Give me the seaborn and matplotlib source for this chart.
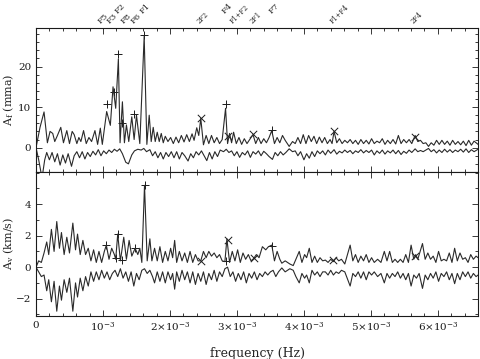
import numpy as np
import pandas as pd
import seaborn as sns
import matplotlib.pyplot as plt
from matplotlib.ticker import MultipleLocator, FixedLocator, FixedFormatter
import matplotlib.transforms as mtransforms

# frequencies in mHz (1e-3 Hz), amplitudes
top_upper = [
    (0.00, 0.0), (0.06, 5.0), (0.12, 8.8), (0.17, 1.2), (0.21, 4.0), (0.25, 3.5), (0.28, 1.5),
    (0.32, 3.0), (0.37, 5.0), (0.41, 1.2), (0.46, 4.2), (0.50, 1.0), (0.54, 4.0), (0.57, 3.2),
    (0.61, 1.0), (0.64, 2.5), (0.67, 1.5), (0.71, 4.2), (0.75, 1.0), (0.79, 2.5), (0.83, 1.5),
    (0.88, 4.2), (0.92, 0.8), (0.96, 4.8), (0.99, 0.8), (1.055, 8.9), (1.11, 5.5), (1.15, 15.0),
    (1.19, 9.7), (1.23, 21.9), (1.255, 1.2), (1.29, 11.3), (1.32, 1.2), (1.35, 5.6), (1.385, 1.5),
    (1.43, 7.6), (1.465, 2.0), (1.50, 8.0), (1.55, 1.0), (1.615, 27.5), (1.655, 0.8), (1.69, 8.0),
    (1.72, 1.5), (1.75, 5.0), (1.78, 1.5), (1.81, 3.8), (1.84, 1.5), (1.87, 3.5), (1.90, 1.2),
    (1.93, 2.8), (1.97, 1.5), (2.01, 2.5), (2.05, 1.0), (2.09, 2.6), (2.13, 1.2), (2.17, 3.0),
    (2.21, 1.4), (2.25, 3.2), (2.29, 1.5), (2.33, 3.4), (2.36, 1.8), (2.40, 4.9), (2.43, 3.0),
    (2.46, 7.2), (2.50, 0.7), (2.54, 3.0), (2.58, 1.0), (2.62, 3.0), (2.66, 1.2), (2.70, 2.5),
    (2.74, 1.0), (2.78, 2.0), (2.83, 9.7), (2.86, 1.0), (2.89, 3.5), (2.92, 1.2), (2.95, 3.8),
    (2.99, 1.0), (3.03, 2.5), (3.07, 0.8), (3.11, 2.2), (3.15, 1.0), (3.19, 2.0), (3.24, 3.2),
    (3.28, 1.0), (3.32, 2.5), (3.36, 1.0), (3.40, 2.2), (3.44, 1.2), (3.48, 2.5), (3.52, 4.2),
    (3.56, 1.0), (3.60, 2.5), (3.64, 1.2), (3.68, 3.0), (3.72, 1.8), (3.78, 0.3), (3.83, 1.5),
    (3.87, 1.0), (3.91, 2.5), (3.95, 1.0), (3.99, 3.2), (4.03, 1.0), (4.07, 3.0), (4.11, 1.5),
    (4.15, 2.8), (4.19, 1.0), (4.23, 2.6), (4.27, 1.2), (4.31, 2.5), (4.35, 1.0), (4.39, 2.0),
    (4.42, 1.0), (4.45, 4.0), (4.49, 1.2), (4.53, 2.2), (4.57, 1.0), (4.61, 1.8), (4.65, 1.2),
    (4.69, 2.0), (4.73, 1.0), (4.77, 1.8), (4.81, 0.8), (4.85, 2.0), (4.89, 1.0), (4.93, 1.8),
    (4.97, 0.9), (5.01, 2.2), (5.05, 1.0), (5.09, 1.6), (5.13, 1.2), (5.17, 2.2), (5.21, 0.8),
    (5.25, 1.8), (5.29, 1.0), (5.33, 2.0), (5.37, 0.9), (5.41, 3.0), (5.45, 1.0), (5.49, 2.0),
    (5.53, 1.2), (5.57, 2.0), (5.61, 1.0), (5.66, 3.0), (5.70, 1.5), (5.74, 1.8), (5.78, 1.0),
    (5.82, 1.2), (5.86, 0.3), (5.90, 1.2), (5.94, 0.6), (5.98, 1.8), (6.02, 0.8), (6.06, 1.8),
    (6.10, 0.8), (6.14, 1.6), (6.18, 0.6), (6.22, 1.8), (6.26, 0.8), (6.30, 1.5), (6.34, 0.7),
    (6.38, 1.6), (6.42, 0.5), (6.46, 1.8), (6.50, 0.6), (6.54, 1.6), (6.60, 0.8),
]

top_lower = [
    (0.00, 0.0), (0.04, -3.0), (0.09, -7.5), (0.13, -3.0), (0.16, -1.2), (0.20, -3.0), (0.24, -1.2),
    (0.28, -3.5), (0.32, -1.5), (0.36, -4.3), (0.40, -1.8), (0.44, -3.8), (0.48, -1.5), (0.53, -4.6),
    (0.57, -2.0), (0.61, -1.0), (0.65, -2.5), (0.69, -1.0), (0.73, -2.8), (0.77, -1.2), (0.81, -2.2),
    (0.85, -0.9), (0.89, -1.8), (0.93, -0.5), (0.97, -2.0), (1.01, -0.8), (1.05, -1.5), (1.09, -0.6),
    (1.13, -1.2), (1.17, -0.4), (1.21, -0.9), (1.25, -0.3), (1.29, -1.5), (1.34, -3.6), (1.38, -4.0),
    (1.43, -1.8), (1.47, -0.8), (1.52, -0.4), (1.57, -0.6), (1.61, -0.2), (1.65, -1.0), (1.70, -0.5),
    (1.74, -2.0), (1.78, -1.0), (1.82, -2.5), (1.86, -1.2), (1.90, -2.8), (1.94, -1.2), (1.98, -2.2),
    (2.02, -1.0), (2.06, -2.5), (2.10, -1.0), (2.14, -2.8), (2.18, -1.2), (2.22, -2.0), (2.27, -3.3),
    (2.31, -1.5), (2.35, -2.5), (2.39, -1.0), (2.43, -1.8), (2.47, -0.8), (2.51, -2.0), (2.55, -3.2),
    (2.59, -1.2), (2.63, -2.8), (2.67, -1.0), (2.71, -2.2), (2.75, -0.6), (2.80, -1.0), (2.84, -0.4),
    (2.88, -1.2), (2.92, -0.8), (2.96, -2.0), (3.00, -1.0), (3.04, -2.4), (3.08, -1.2), (3.12, -1.8),
    (3.16, -0.8), (3.20, -2.4), (3.24, -1.0), (3.28, -1.6), (3.32, -0.8), (3.36, -2.0), (3.40, -0.9),
    (3.44, -1.5), (3.48, -2.2), (3.53, -2.9), (3.57, -1.2), (3.61, -2.0), (3.65, -1.0), (3.69, -1.8),
    (3.73, -1.2), (3.78, -0.3), (3.83, -1.0), (3.87, -0.8), (3.91, -2.0), (3.95, -1.0), (4.00, -3.0),
    (4.04, -1.5), (4.08, -2.6), (4.12, -1.0), (4.16, -2.2), (4.20, -0.8), (4.24, -1.5), (4.28, -0.8),
    (4.32, -1.8), (4.36, -0.6), (4.40, -1.4), (4.45, -0.5), (4.49, -1.6), (4.53, -0.9), (4.57, -1.3),
    (4.61, -0.6), (4.65, -1.2), (4.69, -0.7), (4.73, -1.5), (4.77, -0.8), (4.81, -1.2), (4.85, -0.5),
    (4.89, -1.3), (4.93, -0.7), (4.97, -1.2), (5.01, -0.6), (5.05, -1.8), (5.09, -0.8), (5.13, -1.4),
    (5.17, -0.6), (5.21, -1.6), (5.25, -0.8), (5.29, -1.3), (5.33, -0.6), (5.37, -1.5), (5.41, -0.7),
    (5.45, -1.7), (5.49, -0.9), (5.53, -1.4), (5.57, -0.6), (5.61, -1.2), (5.66, -0.3), (5.70, -1.0),
    (5.74, -0.7), (5.78, -1.0), (5.82, -0.6), (5.86, -0.2), (5.90, -1.0), (5.94, -0.5), (5.98, -1.3),
    (6.02, -0.6), (6.06, -1.2), (6.10, -0.4), (6.14, -1.1), (6.18, -0.5), (6.22, -1.2), (6.26, -0.6),
    (6.30, -1.0), (6.34, -0.4), (6.38, -1.1), (6.42, -0.3), (6.46, -1.2), (6.50, -0.5), (6.54, -1.0),
    (6.60, -0.4),
]

bot_upper = [
    (0.00, 0.0), (0.04, 0.4), (0.08, 0.3), (0.12, 0.9), (0.16, 1.6), (0.19, 0.8), (0.23, 2.4),
    (0.27, 1.0), (0.31, 2.9), (0.35, 1.2), (0.38, 2.2), (0.42, 0.8), (0.46, 1.9), (0.50, 0.9),
    (0.55, 2.8), (0.59, 1.1), (0.62, 2.1), (0.66, 0.8), (0.70, 1.7), (0.74, 0.8), (0.78, 1.2),
    (0.82, 0.4), (0.86, 1.1), (0.90, 0.3), (0.94, 1.0), (0.98, 0.3), (1.02, 1.0), (1.05, 1.4),
    (1.09, 0.5), (1.13, 1.2), (1.17, 0.8), (1.19, 0.5), (1.22, 2.1), (1.26, 0.4), (1.31, 1.9),
    (1.35, 0.5), (1.39, 1.7), (1.43, 0.7), (1.48, 1.2), (1.52, 0.8), (1.55, 1.2), (1.58, 0.3),
    (1.62, 5.2), (1.66, 0.4), (1.70, 1.8), (1.73, 0.4), (1.77, 1.2), (1.81, 0.4), (1.85, 1.3),
    (1.89, 0.3), (1.93, 1.0), (1.97, 0.4), (2.01, 1.2), (2.04, 0.6), (2.07, 1.7), (2.10, 0.3),
    (2.14, 1.0), (2.18, 0.4), (2.22, 0.9), (2.26, 0.3), (2.30, 1.0), (2.34, 0.3), (2.38, 0.8),
    (2.42, 0.4), (2.46, 0.4), (2.50, 1.0), (2.54, 0.6), (2.58, 1.0), (2.62, 0.7), (2.66, 0.9),
    (2.70, 0.6), (2.74, 0.8), (2.78, 0.4), (2.82, 0.35), (2.85, 1.8), (2.89, 0.3), (2.93, 1.0),
    (2.97, 0.4), (3.01, 1.1), (3.05, 0.3), (3.09, 0.9), (3.13, 0.5), (3.17, 0.8), (3.21, 0.4),
    (3.25, 0.55), (3.29, 0.8), (3.33, 0.6), (3.38, 1.3), (3.43, 1.1), (3.47, 1.3), (3.52, 1.4),
    (3.56, 0.4), (3.60, 1.0), (3.64, 0.5), (3.67, 0.25), (3.72, 0.4), (3.79, 0.2), (3.84, 0.1),
    (3.88, 0.5), (3.93, 1.0), (3.97, 0.3), (4.01, 0.8), (4.04, 0.6), (4.08, 1.2), (4.12, 0.3),
    (4.16, 0.7), (4.20, 0.3), (4.24, 0.6), (4.28, 0.4), (4.32, 0.45), (4.36, 0.3), (4.40, 0.5),
    (4.44, 0.35), (4.48, 0.6), (4.52, 0.4), (4.56, 0.5), (4.61, 0.2), (4.69, 1.4), (4.73, 0.4),
    (4.77, 0.8), (4.81, 0.3), (4.85, 0.7), (4.89, 0.4), (4.93, 0.8), (4.97, 0.3), (5.01, 0.6),
    (5.05, 0.3), (5.10, 0.5), (5.15, 0.3), (5.20, 1.0), (5.24, 0.4), (5.28, 1.0), (5.32, 0.3),
    (5.36, 0.5), (5.40, 0.3), (5.44, 0.5), (5.48, 0.3), (5.52, 0.8), (5.56, 0.3), (5.60, 1.4),
    (5.64, 0.5), (5.67, 0.8), (5.70, 0.5), (5.77, 1.5), (5.81, 0.5), (5.85, 0.9), (5.89, 0.5),
    (5.93, 0.7), (5.97, 0.3), (6.01, 1.0), (6.05, 0.4), (6.09, 0.5), (6.13, 0.4), (6.17, 0.9),
    (6.21, 0.3), (6.25, 1.2), (6.29, 0.4), (6.33, 0.9), (6.37, 0.5), (6.41, 0.6), (6.45, 0.3),
    (6.49, 0.8), (6.53, 0.5), (6.57, 0.7), (6.60, 0.6),
]

bot_lower = [
    (0.00, 0.0), (0.04, -0.3), (0.08, -0.6), (0.12, -0.5), (0.16, -1.5), (0.19, -0.8), (0.23, -2.2),
    (0.27, -0.9), (0.31, -2.8), (0.35, -1.2), (0.38, -2.1), (0.42, -0.8), (0.46, -1.6), (0.50, -0.7),
    (0.55, -2.8), (0.59, -1.0), (0.62, -1.9), (0.66, -0.7), (0.70, -1.5), (0.74, -0.6), (0.78, -1.2),
    (0.82, -0.3), (0.86, -0.9), (0.90, -0.3), (0.94, -0.8), (0.98, -0.2), (1.02, -0.7), (1.06, -0.3),
    (1.10, -0.8), (1.14, -0.4), (1.18, -0.2), (1.22, -0.6), (1.26, -0.1), (1.30, -0.7), (1.34, -0.3),
    (1.38, -0.9), (1.42, -0.3), (1.46, -1.2), (1.50, -0.4), (1.54, -0.8), (1.58, -0.2), (1.62, -0.1),
    (1.66, -0.4), (1.70, -0.2), (1.74, -0.6), (1.77, -1.0), (1.81, -0.3), (1.85, -0.9), (1.89, -0.3),
    (1.93, -1.0), (1.97, -0.3), (2.01, -0.8), (2.04, -0.4), (2.07, -1.4), (2.10, -0.3), (2.14, -0.9),
    (2.18, -0.2), (2.22, -0.8), (2.26, -0.3), (2.30, -1.0), (2.34, -0.3), (2.38, -1.1), (2.42, -0.4),
    (2.46, -0.9), (2.50, -0.3), (2.54, -1.1), (2.58, -0.4), (2.62, -0.8), (2.66, -0.2), (2.70, -0.9),
    (2.74, -0.3), (2.78, -0.6), (2.82, -0.1), (2.86, 0.0), (2.90, -0.6), (2.94, -0.3), (2.98, -0.9),
    (3.02, -0.4), (3.06, -0.8), (3.10, -0.3), (3.14, -1.0), (3.18, -0.4), (3.22, -0.7), (3.26, -0.3),
    (3.30, -0.8), (3.34, -0.4), (3.38, -0.6), (3.42, -0.3), (3.46, -0.5), (3.50, -0.3), (3.54, -0.2),
    (3.58, -0.6), (3.62, -0.3), (3.67, -0.05), (3.72, -0.3), (3.79, -0.1), (3.84, -0.2), (3.88, -0.6),
    (3.93, -1.0), (3.97, -0.4), (4.01, -0.7), (4.04, -0.5), (4.08, -1.0), (4.12, -0.2), (4.16, -0.5),
    (4.20, -0.3), (4.24, -0.6), (4.28, -0.3), (4.32, -0.3), (4.36, -0.5), (4.40, -0.2), (4.44, -0.5),
    (4.48, -0.3), (4.52, -0.4), (4.56, -0.2), (4.61, -0.3), (4.69, -1.2), (4.73, -0.4), (4.77, -0.6),
    (4.81, -0.3), (4.85, -0.7), (4.89, -0.3), (4.93, -0.8), (4.97, -0.3), (5.01, -0.5), (5.05, -0.3),
    (5.10, -0.6), (5.15, -0.4), (5.20, -1.0), (5.24, -0.4), (5.28, -0.7), (5.32, -0.4), (5.36, -0.6),
    (5.40, -0.3), (5.44, -0.7), (5.48, -0.4), (5.52, -0.8), (5.56, -0.4), (5.60, -1.2), (5.64, -0.5),
    (5.68, -0.7), (5.72, -0.4), (5.77, -1.35), (5.81, -0.5), (5.85, -0.8), (5.89, -0.4), (5.93, -0.7),
    (5.97, -0.3), (6.01, -0.9), (6.05, -0.4), (6.09, -0.6), (6.13, -0.3), (6.17, -0.8), (6.21, -0.4),
    (6.25, -1.05), (6.29, -0.4), (6.33, -0.8), (6.37, -0.3), (6.41, -0.6), (6.45, -0.3), (6.49, -0.7),
    (6.53, -0.4), (6.57, -0.6), (6.60, -0.5),
]

# identified frequencies (+) and combinations (x)
top_plus = [(1.055, 10.7), (1.17, 13.6), (1.23, 23.0), (1.28, 6.0), (1.46, 8.3), (1.61, 27.8),
            (2.83, 10.7), (3.52, 4.3)]
top_cross = [(2.46, 7.4), (2.87, 2.8), (3.24, 3.3), (4.45, 4.0), (5.66, 2.7)]
bot_plus = [(1.05, 1.4), (1.22, 2.1), (1.19, 0.55), (1.28, 0.45), (1.48, 1.2), (1.62, 5.2),
            (2.84, 0.4), (3.52, 1.35)]
bot_cross = [(2.46, 0.4), (2.86, 1.75), (3.25, 0.55), (4.44, 0.45), (5.66, 0.7)]

# peak labels above the top panel: (text, freq, row)
peak_labels = [("F5", 1.00, 0), ("F3", 1.14, 0), ("F2", 1.25, 1), ("F8", 1.34, 0),
               ("F6", 1.49, 0), ("F1", 1.63, 1), ("F4", 2.85, 1), ("F7", 3.55, 1)]
combo_labels = [("2F2", 2.49, 0), ("F1+F2", 3.04, 0), ("2F1", 3.28, 0),
                ("F1+F4", 4.53, 0), ("2F4", 5.69, 0)]

xtick_vals = [0, 1, 2, 3, 4, 5, 6]
xtick_labels = ["0", r"$10^{-3}$", r"$2{\times}10^{-3}$", r"$3{\times}10^{-3}$",
                r"$4{\times}10^{-3}$", r"$5{\times}10^{-3}$", r"$6{\times}10^{-3}$"]

sns.set_theme(style="ticks")
plt.rcParams["font.family"] = ["DejaVu Serif"]
plt.rcParams["mathtext.fontset"] = "dejavuserif"

fig, (ax1, ax2) = plt.subplots(2, 1, figsize=(4.8, 3.59), dpi=100, sharex=True)
fig.subplots_adjust(left=0.075, right=0.996, top=0.922, bottom=0.12, hspace=0)

lc = "#2a2a2a"


def curve(ax, pts):
    df = pd.DataFrame(pts, columns=["f", "a"])
    df["f"] = df["f"] * 1e-3
    sns.lineplot(data=df, x="f", y="a", ax=ax, color=lc, lw=0.8, estimator=None, sort=False)


def marks(ax, pts, m):
    df = pd.DataFrame(pts, columns=["f", "a"])
    df["f"] = df["f"] * 1e-3
    sns.scatterplot(data=df, x="f", y="a", ax=ax, marker=m, color="k", s=28, linewidth=0.7)


curve(ax1, top_upper)
curve(ax1, top_lower)
curve(ax2, bot_upper)
curve(ax2, bot_lower)
marks(ax1, top_plus, "+")
marks(ax1, top_cross, "x")
marks(ax2, bot_plus, "+")
marks(ax2, bot_cross, "x")

ax1.set_ylim(-6, 29.5)
ax2.set_ylim(-3.1, 6.05)
ax2.set_xlim(0, 6.6e-3)

for ax in (ax1, ax2):
    ax.tick_params(which="both", direction="in", top=True, right=True, labelsize=7.5,
                   colors="k", width=0.6)
    ax.tick_params(which="major", length=4)
    ax.tick_params(which="minor", length=2)
    ax.xaxis.set_minor_locator(MultipleLocator(0.2e-3))
    for s in ax.spines.values():
        s.set_linewidth(0.8)
        s.set_color("k")
    ax.set_xlabel("")

ax1.yaxis.set_major_locator(FixedLocator([0, 10, 20]))
ax1.yaxis.set_minor_locator(MultipleLocator(2))
ax2.yaxis.set_major_locator(FixedLocator([-2, 0, 2, 4]))
ax2.yaxis.set_minor_locator(MultipleLocator(1))
ax2.xaxis.set_major_locator(FixedLocator([v * 1e-3 for v in xtick_vals]))
ax2.xaxis.set_major_formatter(FixedFormatter(xtick_labels))

ax1.set_ylabel(r"A$_\mathrm{f}$ (mma)", fontsize=8)
ax2.set_ylabel(r"A$_\mathrm{v}$ (km/s)", fontsize=8)
ax1.yaxis.set_label_coords(-0.045, 0.5)
ax2.yaxis.set_label_coords(-0.045, 0.5)
ax2.set_xlabel("frequency (Hz)", fontsize=9, labelpad=10)

trans = mtransforms.blended_transform_factory(ax1.transData, ax1.transAxes)
row_y = [1.02, 1.09]
for txt, f, row in peak_labels:
    ax1.text(f * 1e-3, row_y[row], txt, transform=trans, rotation=45, fontsize=6,
             ha="center", va="bottom")
for txt, f, row in combo_labels:
    ax1.text(f * 1e-3, row_y[row], txt, transform=trans, rotation=45, fontsize=4.8,
             ha="center", va="bottom")

fig.savefig("out.png", dpi=100)
